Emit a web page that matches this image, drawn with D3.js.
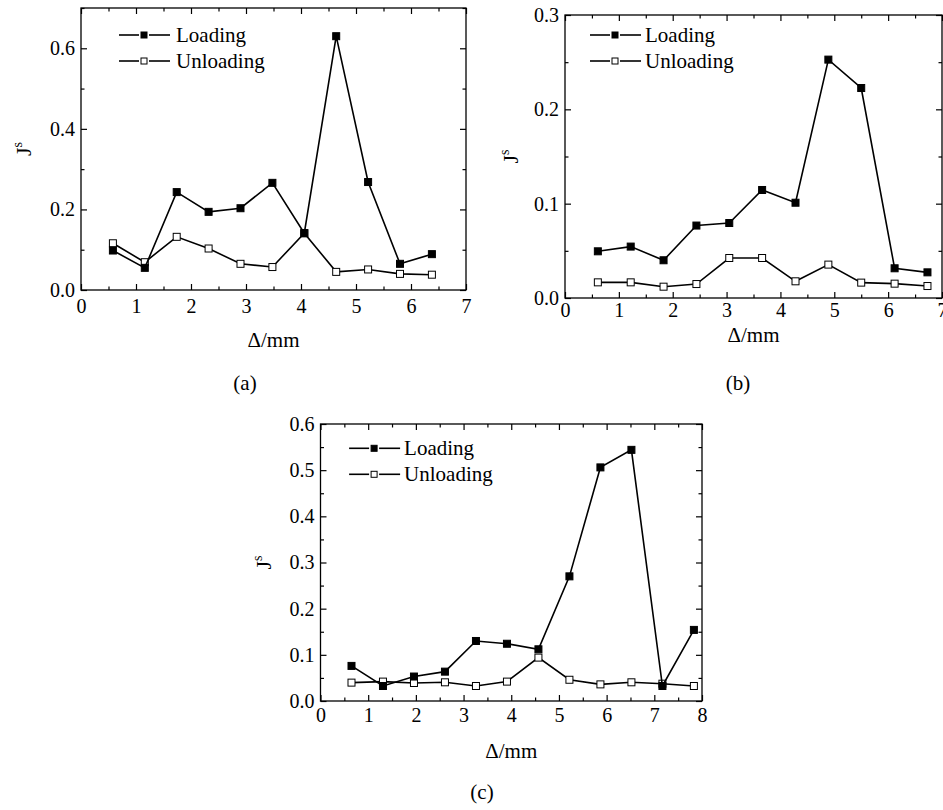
<!DOCTYPE html>
<html>
<head>
<meta charset="utf-8">
<script src="https://cdn.jsdelivr.net/npm/d3@7"></script>
<style>
body { margin: 0; background: #fff; }
svg text { fill: #000; }
</style>
</head>
<body>
<svg id="chart" width="943" height="810"></svg>
<script>
//## values
var seriesNames = ["Loading", "Unloading"];

// (a)
var xA = [0.58, 1.16, 1.74, 2.32, 2.90, 3.48, 4.06, 4.64, 5.22, 5.80, 6.38];
var loadA = [0.098, 0.055, 0.243, 0.194, 0.203, 0.266, 0.141, 0.630, 0.268, 0.065, 0.089];
var unloadA = [0.116, 0.069, 0.132, 0.103, 0.065, 0.057, 0.141, 0.045, 0.051, 0.040, 0.038];

// (b)
var xB = [0.61, 1.22, 1.83, 2.44, 3.05, 3.66, 4.28, 4.89, 5.50, 6.12, 6.73];
var loadB = [0.0495, 0.0545, 0.040, 0.0768, 0.0795, 0.1145, 0.101, 0.2527, 0.2226, 0.0315, 0.0272];
var unloadB = [0.0166, 0.0166, 0.012, 0.0148, 0.0424, 0.0424, 0.0177, 0.0354, 0.0163, 0.0152, 0.0127];

// (c)
var xC = [0.65, 1.31, 1.96, 2.61, 3.26, 3.91, 4.57, 5.22, 5.87, 6.52, 7.17, 7.83];
var loadC = [0.076, 0.0325, 0.053, 0.0636, 0.130, 0.124, 0.112, 0.270, 0.506, 0.544, 0.0325, 0.154];
var unloadC = [0.0398, 0.042, 0.039, 0.0405, 0.0325, 0.042, 0.094, 0.046, 0.036, 0.0405, 0.0375, 0.0325];

var xTitle = "\u0394/mm";
var captions = ["(a)", "(b)", "(c)"];

//## layout for each panel
var panels = [
    { x: xA, load: loadA, unload: unloadA, caption: captions[0],
      left: 81, right: 466, top: 8, bottom: 290,
      xMax: 7, yMax: 0.7, yMajor: 0.2, yMinor: 0.1,
      xPad: 9, xTitleY: 347, yTitleX: 31, legX: 38, legText: 95, legY: 35,
      capX: 245, capY: 390 },
    { x: xB, load: loadB, unload: unloadB, caption: captions[1],
      left: 565, right: 942, top: 15, bottom: 298,
      xMax: 7, yMax: 0.3, yMajor: 0.1, yMinor: 0.05,
      xPad: 5, xTitleY: 342, yTitleX: 518, legX: 25, legText: 80, legY: 35,
      capX: 738, capY: 390 },
    { x: xC, load: loadC, unload: unloadC, caption: captions[2],
      left: 320.5, right: 702, top: 424, bottom: 701,
      xMax: 8, yMax: 0.6, yMajor: 0.1, yMinor: 0.05,
      xPad: 7, xTitleY: 758, yTitleX: 271, legX: 28.6, legText: 83.6, legY: 448.3,
      capX: 482, capY: 799 }
];

var serif = "'Liberation Serif', 'Times New Roman', 'DejaVu Serif', serif";
var svg = d3.select("#chart").style("font-family", serif);
var tickFont = 20;
var majorLen = 6, minorLen = 3.5;
var markerSize = 7;

function styleAxis(g) {
    g.attr("font-family", null).attr("font-size", null);
    g.select(".domain").remove();
    g.selectAll("line").attr("stroke", "#000").attr("stroke-width", 1.2);
    g.selectAll("text")
        .style("font-family", serif)
        .style("font-size", tickFont + "px");
}

function drawPanel(p) {
    var x = d3.scaleLinear().domain([0, p.xMax]).range([p.left, p.right]);
    var y = d3.scaleLinear().domain([0, p.yMax]).range([p.bottom, p.top]);
    var g = svg.append("g");

    var xMajor = d3.range(0, p.xMax + 0.001, 1);
    var xMinor = d3.range(0.5, p.xMax, 1);
    var yMajorV = d3.range(0, p.yMax + 1e-6, p.yMajor);
    var yMinorV = d3.range(0, p.yMax + 1e-6, p.yMinor).filter(function(v) {
        return Math.abs(v / p.yMajor - Math.round(v / p.yMajor)) > 1e-6;
    });

    // bottom + top
    g.append("g").attr("transform", "translate(0," + p.bottom + ")")
        .call(d3.axisBottom(x).tickValues(xMajor).tickSizeInner(-majorLen).tickSizeOuter(0)
            .tickPadding(p.xPad).tickFormat(d3.format("d"))).call(styleAxis);
    g.append("g").attr("transform", "translate(0," + p.bottom + ")")
        .call(d3.axisBottom(x).tickValues(xMinor).tickSizeInner(-minorLen).tickSizeOuter(0)
            .tickFormat("")).call(styleAxis);
    g.append("g").attr("transform", "translate(0," + p.top + ")")
        .call(d3.axisTop(x).tickValues(xMajor).tickSizeInner(-majorLen).tickSizeOuter(0)
            .tickFormat("")).call(styleAxis);
    g.append("g").attr("transform", "translate(0," + p.top + ")")
        .call(d3.axisTop(x).tickValues(xMinor).tickSizeInner(-minorLen).tickSizeOuter(0)
            .tickFormat("")).call(styleAxis);

    // left + right
    g.append("g").attr("transform", "translate(" + p.left + ",0)")
        .call(d3.axisLeft(y).tickValues(yMajorV).tickSizeInner(-majorLen).tickSizeOuter(0)
            .tickPadding(6).tickFormat(d3.format(".1f"))).call(styleAxis);
    g.append("g").attr("transform", "translate(" + p.left + ",0)")
        .call(d3.axisLeft(y).tickValues(yMinorV).tickSizeInner(-minorLen).tickSizeOuter(0)
            .tickFormat("")).call(styleAxis);
    g.append("g").attr("transform", "translate(" + p.right + ",0)")
        .call(d3.axisRight(y).tickValues(yMajorV).tickSizeInner(-majorLen).tickSizeOuter(0)
            .tickFormat("")).call(styleAxis);
    g.append("g").attr("transform", "translate(" + p.right + ",0)")
        .call(d3.axisRight(y).tickValues(yMinorV).tickSizeInner(-minorLen).tickSizeOuter(0)
            .tickFormat("")).call(styleAxis);

    // frame
    g.append("rect")
        .attr("x", p.left).attr("y", p.top)
        .attr("width", p.right - p.left).attr("height", p.bottom - p.top)
        .attr("fill", "none").attr("stroke", "#000").attr("stroke-width", 1.3);

    // series
    var line = d3.line()
        .x(function(d) { return x(d[0]); })
        .y(function(d) { return y(d[1]); });
    [[p.unload, "#fff"], [p.load, "#000"]].forEach(function(s) {
        var pts = p.x.map(function(v, i) { return [v, s[0][i]]; });
        g.append("path").datum(pts)
            .attr("d", line).attr("fill", "none")
            .attr("stroke", "#000").attr("stroke-width", 1.6);
        g.selectAll(null).data(pts).enter().append("rect")
            .attr("x", function(d) { return x(d[0]) - markerSize / 2; })
            .attr("y", function(d) { return y(d[1]) - markerSize / 2; })
            .attr("width", markerSize).attr("height", markerSize)
            .attr("fill", s[1]).attr("stroke", "#000").attr("stroke-width", 1);
    });

    // legend
    var lx0 = p.left + p.legX, lxm = lx0 + 25, lx1 = lx0 + 51;
    seriesNames.forEach(function(name, i) {
        var ly = p.legY + i * 26;
        var leg = g.append("g");
        leg.append("line").attr("x1", lx0).attr("x2", lxm - 5).attr("y1", ly).attr("y2", ly)
            .attr("stroke", "#000").attr("stroke-width", 1.6);
        leg.append("line").attr("x1", lxm + 5).attr("x2", lx1).attr("y1", ly).attr("y2", ly)
            .attr("stroke", "#000").attr("stroke-width", 1.6);
        leg.append("rect").attr("x", lxm - 3).attr("y", ly - 3).attr("width", 6).attr("height", 6)
            .attr("fill", i == 0 ? "#000" : "#fff").attr("stroke", "#000").attr("stroke-width", 1);
        leg.append("text").attr("x", p.left + p.legText).attr("y", ly + 7)
            .style("font-family", serif).style("font-size", "21px").text(name);
    });

    // axis titles
    g.append("text")
        .attr("x", (p.left + p.right) / 2).attr("y", p.xTitleY)
        .attr("text-anchor", "middle")
        .style("font-family", serif).style("font-size", "21px")
        .text(xTitle);
    var yt = g.append("text")
        .attr("transform", "translate(" + p.yTitleX + "," + (p.top + p.bottom) / 2 + ") rotate(-90)")
        .attr("text-anchor", "middle")
        .style("font-family", serif).style("font-size", "22px");
    yt.append("tspan").text("J");
    yt.append("tspan").attr("dy", -9).style("font-size", "14px").text("s");

    // caption
    g.append("text")
        .attr("x", p.capX).attr("y", p.capY)
        .attr("text-anchor", "middle")
        .style("font-family", serif).style("font-size", "21px")
        .text(p.caption);
}

panels.forEach(drawPanel);
</script>
</body>
</html>
